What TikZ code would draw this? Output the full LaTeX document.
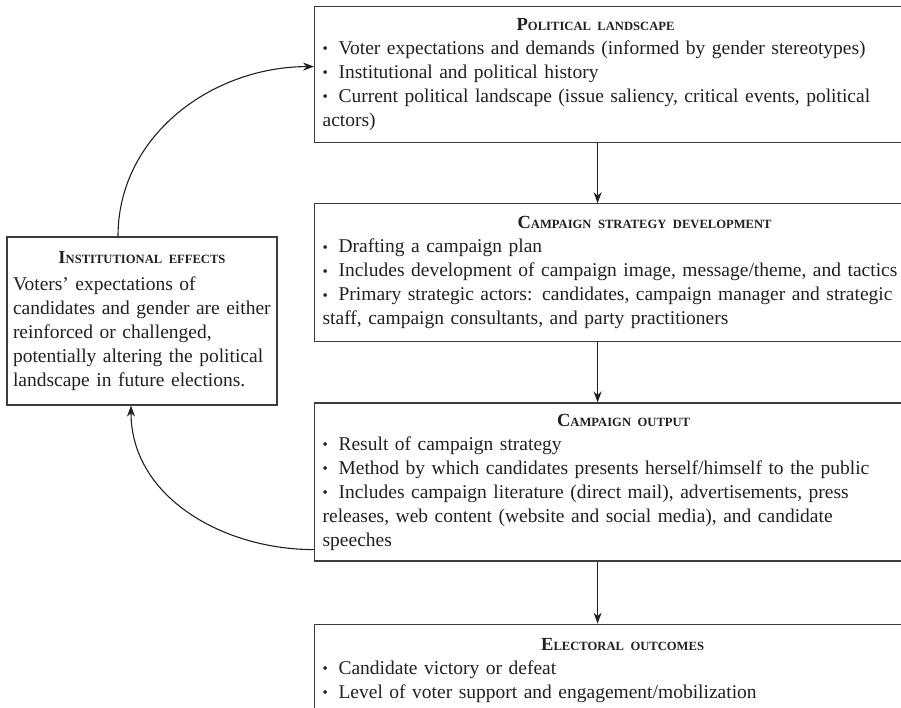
\documentclass[tikz,border=0pt]{standalone}
\usepackage{fontspec}
\setmainfont{Liberation Serif}
\usepackage{tikz}
\usetikzlibrary{arrows.meta, positioning}
\definecolor{inkcolor}{RGB}{35, 31, 32}
\definecolor{boxborder}{RGB}{60, 60, 60}
% title in small capitals, #1 = shift of its centre
\newcommand{\boxtitle}[3][0pt]{\makebox[\hsize][c]{\hspace*{#1}\hspace*{#1}%
    {\bfseries\fontsize{18.5}{24}\selectfont #2\fontsize{12.6}{24}\selectfont\MakeUppercase{#3}}}}
\newcommand{\dotitem}{{\fontsize{15}{24}\selectfont\raisebox{0.1ex}{•}}\hspace{0.55em}}
\tikzstyle{phase} = [rectangle, draw=boxborder, line width=1.2pt, minimum width=600pt,
                     text width=584pt, inner xsep=8pt, inner ysep=7pt, align=left,
                     text=inkcolor, font=\fontsize{19.5}{24}\selectfont]
\tikzstyle{effectbox} = [phase, minimum width=270pt, minimum height=168pt, text width=258pt,
                         inner xsep=6pt]
\tikzstyle{arrow} = [-{Stealth[length=11pt, width=8pt]}, line width=1.1pt, draw=inkcolor]

\begin{document}
\begin{tikzpicture}[x=1pt, y=1pt, node distance=60pt]
    \useasboundingbox (0,0) rectangle (901,-708);
    % Main flow
    \node[phase, anchor=north west, minimum height=136pt] (landscape) at (314,-6) {%
        \boxtitle[-19pt]{P}{olitical landscape}\\
        \dotitem Voter expectations and demands (informed by gender stereotypes)\\
        \dotitem Institutional and political history\\
        \dotitem Current political landscape (issue saliency, critical events, political\\
        actors)};
    \node[phase, below=of landscape, minimum height=138pt] (strategy) {%
        \boxtitle[30pt]{C}{ampaign strategy development}\\
        \dotitem Drafting a campaign plan\\
        \dotitem Includes development of campaign image, message/theme, and tactics\\
        \dotitem Primary strategic actors: candidates, campaign manager and strategic\\
        staff, campaign consultants, and party practitioners};
    \node[phase, below=of strategy, minimum height=158pt] (output) {%
        \boxtitle[9pt]{C}{ampaign output}\\
        \dotitem Result of campaign strategy\\
        \dotitem Method by which candidates presents herself/himself to the public\\
        \dotitem Includes campaign literature (direct mail), advertisements, press\\
        releases, web content (website and social media), and candidate\\
        speeches};
    \node[phase, below=62pt of output, minimum height=92pt] (outcomes) {%
        \boxtitle[8pt]{E}{lectoral outcomes}\\
        \dotitem Candidate victory or defeat\\
        \dotitem Level of voter support and engagement/mobilization};

    % Feedback loop
    \node[effectbox] (effects) at (142,-321) {%
        \boxtitle{I}{nstitutional effects}\\[3pt]
        Voters' expectations of\\
        candidates and gender are either\\
        reinforced or challenged,\\
        potentially altering the political\\
        landscape in future elections.};

    % Transitions
    \draw[arrow] ([xshift=-17pt]landscape.south) -- ([xshift=-17pt]strategy.north);
    \draw[arrow] ([xshift=-17pt]strategy.south) -- ([xshift=-17pt]output.north);
    \draw[arrow] ([xshift=-17pt]output.south) -- ([xshift=-17pt]outcomes.north);
    \draw[arrow] ([yshift=12pt]output.south west) to[out=180, in=-90] ([xshift=-11pt]effects.south);
    \draw[arrow] ([xshift=-24pt]effects.north) to[out=90, in=180] ([yshift=8pt]landscape.west);
\end{tikzpicture}
\end{document}
